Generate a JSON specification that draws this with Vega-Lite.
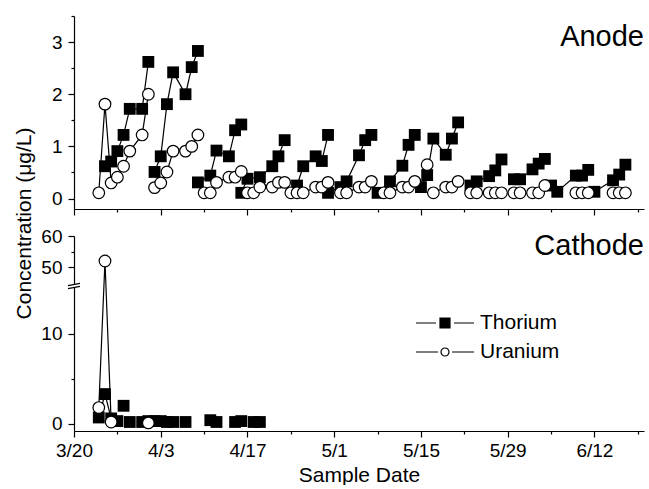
{
  "$schema": "https://vega.github.io/schema/vega-lite/v6.json",
  "padding": {"left": 12, "top": 15, "right": 5, "bottom": 0},
  "background": "white",
  "data": {"values": [
    {"panel":"Anode","element":"Thorium","date":"2003-03-25","value":0.62,"batch":1},
    {"panel":"Anode","element":"Thorium","date":"2003-03-26","value":0.71,"batch":1},
    {"panel":"Anode","element":"Thorium","date":"2003-03-27","value":0.91,"batch":1},
    {"panel":"Anode","element":"Thorium","date":"2003-03-28","value":1.22,"batch":1},
    {"panel":"Anode","element":"Thorium","date":"2003-03-29","value":1.72,"batch":1},
    {"panel":"Anode","element":"Thorium","date":"2003-03-31","value":1.72,"batch":1},
    {"panel":"Anode","element":"Thorium","date":"2003-04-01","value":2.62,"batch":1},
    {"panel":"Anode","element":"Thorium","date":"2003-04-02","value":0.51,"batch":2},
    {"panel":"Anode","element":"Thorium","date":"2003-04-03","value":0.81,"batch":2},
    {"panel":"Anode","element":"Thorium","date":"2003-04-04","value":1.81,"batch":2},
    {"panel":"Anode","element":"Thorium","date":"2003-04-05","value":2.42,"batch":2},
    {"panel":"Anode","element":"Thorium","date":"2003-04-07","value":2.0,"batch":2},
    {"panel":"Anode","element":"Thorium","date":"2003-04-08","value":2.52,"batch":2},
    {"panel":"Anode","element":"Thorium","date":"2003-04-09","value":2.83,"batch":2},
    {"panel":"Anode","element":"Thorium","date":"2003-04-09","value":0.31,"batch":3},
    {"panel":"Anode","element":"Thorium","date":"2003-04-11","value":0.44,"batch":3},
    {"panel":"Anode","element":"Thorium","date":"2003-04-12","value":0.92,"batch":3},
    {"panel":"Anode","element":"Thorium","date":"2003-04-14","value":0.81,"batch":3},
    {"panel":"Anode","element":"Thorium","date":"2003-04-15","value":1.31,"batch":3},
    {"panel":"Anode","element":"Thorium","date":"2003-04-16","value":1.42,"batch":3},
    {"panel":"Anode","element":"Thorium","date":"2003-04-16","value":0.11,"batch":4},
    {"panel":"Anode","element":"Thorium","date":"2003-04-17","value":0.38,"batch":4},
    {"panel":"Anode","element":"Thorium","date":"2003-04-19","value":0.41,"batch":4},
    {"panel":"Anode","element":"Thorium","date":"2003-04-21","value":0.62,"batch":4},
    {"panel":"Anode","element":"Thorium","date":"2003-04-22","value":0.81,"batch":4},
    {"panel":"Anode","element":"Thorium","date":"2003-04-23","value":1.12,"batch":4},
    {"panel":"Anode","element":"Thorium","date":"2003-04-25","value":0.25,"batch":5},
    {"panel":"Anode","element":"Thorium","date":"2003-04-26","value":0.62,"batch":5},
    {"panel":"Anode","element":"Thorium","date":"2003-04-28","value":0.81,"batch":5},
    {"panel":"Anode","element":"Thorium","date":"2003-04-29","value":0.72,"batch":5},
    {"panel":"Anode","element":"Thorium","date":"2003-04-30","value":1.22,"batch":5},
    {"panel":"Anode","element":"Thorium","date":"2003-04-30","value":0.11,"batch":6},
    {"panel":"Anode","element":"Thorium","date":"2003-05-02","value":0.22,"batch":6},
    {"panel":"Anode","element":"Thorium","date":"2003-05-03","value":0.33,"batch":6},
    {"panel":"Anode","element":"Thorium","date":"2003-05-05","value":0.83,"batch":6},
    {"panel":"Anode","element":"Thorium","date":"2003-05-06","value":1.12,"batch":6},
    {"panel":"Anode","element":"Thorium","date":"2003-05-07","value":1.22,"batch":6},
    {"panel":"Anode","element":"Thorium","date":"2003-05-08","value":0.11,"batch":7},
    {"panel":"Anode","element":"Thorium","date":"2003-05-10","value":0.33,"batch":7},
    {"panel":"Anode","element":"Thorium","date":"2003-05-12","value":0.63,"batch":7},
    {"panel":"Anode","element":"Thorium","date":"2003-05-13","value":1.03,"batch":7},
    {"panel":"Anode","element":"Thorium","date":"2003-05-14","value":1.22,"batch":7},
    {"panel":"Anode","element":"Thorium","date":"2003-05-15","value":0.22,"batch":8},
    {"panel":"Anode","element":"Thorium","date":"2003-05-16","value":0.45,"batch":8},
    {"panel":"Anode","element":"Thorium","date":"2003-05-17","value":1.15,"batch":8},
    {"panel":"Anode","element":"Thorium","date":"2003-05-19","value":0.84,"batch":8},
    {"panel":"Anode","element":"Thorium","date":"2003-05-20","value":1.15,"batch":8},
    {"panel":"Anode","element":"Thorium","date":"2003-05-21","value":1.46,"batch":8},
    {"panel":"Anode","element":"Thorium","date":"2003-05-23","value":0.25,"batch":9},
    {"panel":"Anode","element":"Thorium","date":"2003-05-24","value":0.33,"batch":9},
    {"panel":"Anode","element":"Thorium","date":"2003-05-26","value":0.43,"batch":9},
    {"panel":"Anode","element":"Thorium","date":"2003-05-27","value":0.54,"batch":9},
    {"panel":"Anode","element":"Thorium","date":"2003-05-28","value":0.75,"batch":9},
    {"panel":"Anode","element":"Thorium","date":"2003-05-30","value":0.37,"batch":10},
    {"panel":"Anode","element":"Thorium","date":"2003-05-31","value":0.37,"batch":10},
    {"panel":"Anode","element":"Thorium","date":"2003-06-02","value":0.56,"batch":10},
    {"panel":"Anode","element":"Thorium","date":"2003-06-03","value":0.67,"batch":10},
    {"panel":"Anode","element":"Thorium","date":"2003-06-04","value":0.76,"batch":10},
    {"panel":"Anode","element":"Thorium","date":"2003-06-05","value":0.25,"batch":11},
    {"panel":"Anode","element":"Thorium","date":"2003-06-06","value":0.13,"batch":11},
    {"panel":"Anode","element":"Thorium","date":"2003-06-09","value":0.44,"batch":11},
    {"panel":"Anode","element":"Thorium","date":"2003-06-10","value":0.44,"batch":11},
    {"panel":"Anode","element":"Thorium","date":"2003-06-11","value":0.55,"batch":11},
    {"panel":"Anode","element":"Thorium","date":"2003-06-12","value":0.13,"batch":12},
    {"panel":"Anode","element":"Thorium","date":"2003-06-15","value":0.35,"batch":12},
    {"panel":"Anode","element":"Thorium","date":"2003-06-16","value":0.46,"batch":12},
    {"panel":"Anode","element":"Thorium","date":"2003-06-17","value":0.65,"batch":12},
    {"panel":"Anode","element":"Uranium","date":"2003-03-24","value":0.11,"batch":1},
    {"panel":"Anode","element":"Uranium","date":"2003-03-25","value":1.81,"batch":1},
    {"panel":"Anode","element":"Uranium","date":"2003-03-26","value":0.30,"batch":1},
    {"panel":"Anode","element":"Uranium","date":"2003-03-27","value":0.41,"batch":1},
    {"panel":"Anode","element":"Uranium","date":"2003-03-28","value":0.62,"batch":1},
    {"panel":"Anode","element":"Uranium","date":"2003-03-29","value":0.91,"batch":1},
    {"panel":"Anode","element":"Uranium","date":"2003-03-31","value":1.22,"batch":1},
    {"panel":"Anode","element":"Uranium","date":"2003-04-01","value":2.0,"batch":1},
    {"panel":"Anode","element":"Uranium","date":"2003-04-02","value":0.21,"batch":2},
    {"panel":"Anode","element":"Uranium","date":"2003-04-03","value":0.30,"batch":2},
    {"panel":"Anode","element":"Uranium","date":"2003-04-04","value":0.51,"batch":2},
    {"panel":"Anode","element":"Uranium","date":"2003-04-05","value":0.91,"batch":2},
    {"panel":"Anode","element":"Uranium","date":"2003-04-07","value":0.91,"batch":2},
    {"panel":"Anode","element":"Uranium","date":"2003-04-08","value":1.0,"batch":2},
    {"panel":"Anode","element":"Uranium","date":"2003-04-09","value":1.22,"batch":2},
    {"panel":"Anode","element":"Uranium","date":"2003-04-10","value":0.11,"batch":3},
    {"panel":"Anode","element":"Uranium","date":"2003-04-11","value":0.11,"batch":3},
    {"panel":"Anode","element":"Uranium","date":"2003-04-12","value":0.31,"batch":3},
    {"panel":"Anode","element":"Uranium","date":"2003-04-14","value":0.41,"batch":3},
    {"panel":"Anode","element":"Uranium","date":"2003-04-15","value":0.41,"batch":3},
    {"panel":"Anode","element":"Uranium","date":"2003-04-16","value":0.52,"batch":3},
    {"panel":"Anode","element":"Uranium","date":"2003-04-17","value":0.11,"batch":4},
    {"panel":"Anode","element":"Uranium","date":"2003-04-18","value":0.11,"batch":4},
    {"panel":"Anode","element":"Uranium","date":"2003-04-19","value":0.22,"batch":4},
    {"panel":"Anode","element":"Uranium","date":"2003-04-21","value":0.22,"batch":4},
    {"panel":"Anode","element":"Uranium","date":"2003-04-22","value":0.31,"batch":4},
    {"panel":"Anode","element":"Uranium","date":"2003-04-23","value":0.31,"batch":4},
    {"panel":"Anode","element":"Uranium","date":"2003-04-24","value":0.11,"batch":5},
    {"panel":"Anode","element":"Uranium","date":"2003-04-25","value":0.11,"batch":5},
    {"panel":"Anode","element":"Uranium","date":"2003-04-26","value":0.11,"batch":5},
    {"panel":"Anode","element":"Uranium","date":"2003-04-28","value":0.22,"batch":5},
    {"panel":"Anode","element":"Uranium","date":"2003-04-29","value":0.22,"batch":5},
    {"panel":"Anode","element":"Uranium","date":"2003-04-30","value":0.31,"batch":5},
    {"panel":"Anode","element":"Uranium","date":"2003-05-02","value":0.11,"batch":6},
    {"panel":"Anode","element":"Uranium","date":"2003-05-03","value":0.11,"batch":6},
    {"panel":"Anode","element":"Uranium","date":"2003-05-05","value":0.22,"batch":6},
    {"panel":"Anode","element":"Uranium","date":"2003-05-06","value":0.22,"batch":6},
    {"panel":"Anode","element":"Uranium","date":"2003-05-07","value":0.33,"batch":6},
    {"panel":"Anode","element":"Uranium","date":"2003-05-09","value":0.11,"batch":7},
    {"panel":"Anode","element":"Uranium","date":"2003-05-10","value":0.11,"batch":7},
    {"panel":"Anode","element":"Uranium","date":"2003-05-12","value":0.22,"batch":7},
    {"panel":"Anode","element":"Uranium","date":"2003-05-13","value":0.22,"batch":7},
    {"panel":"Anode","element":"Uranium","date":"2003-05-14","value":0.33,"batch":7},
    {"panel":"Anode","element":"Uranium","date":"2003-05-16","value":0.65,"batch":13},
    {"panel":"Anode","element":"Uranium","date":"2003-05-17","value":0.11,"batch":8},
    {"panel":"Anode","element":"Uranium","date":"2003-05-19","value":0.22,"batch":8},
    {"panel":"Anode","element":"Uranium","date":"2003-05-20","value":0.22,"batch":8},
    {"panel":"Anode","element":"Uranium","date":"2003-05-21","value":0.33,"batch":8},
    {"panel":"Anode","element":"Uranium","date":"2003-05-23","value":0.11,"batch":9},
    {"panel":"Anode","element":"Uranium","date":"2003-05-24","value":0.11,"batch":9},
    {"panel":"Anode","element":"Uranium","date":"2003-05-26","value":0.11,"batch":9},
    {"panel":"Anode","element":"Uranium","date":"2003-05-27","value":0.11,"batch":9},
    {"panel":"Anode","element":"Uranium","date":"2003-05-28","value":0.11,"batch":9},
    {"panel":"Anode","element":"Uranium","date":"2003-05-30","value":0.11,"batch":10},
    {"panel":"Anode","element":"Uranium","date":"2003-05-31","value":0.11,"batch":10},
    {"panel":"Anode","element":"Uranium","date":"2003-06-02","value":0.11,"batch":10},
    {"panel":"Anode","element":"Uranium","date":"2003-06-03","value":0.11,"batch":10},
    {"panel":"Anode","element":"Uranium","date":"2003-06-04","value":0.25,"batch":10},
    {"panel":"Anode","element":"Uranium","date":"2003-06-09","value":0.11,"batch":11},
    {"panel":"Anode","element":"Uranium","date":"2003-06-10","value":0.11,"batch":11},
    {"panel":"Anode","element":"Uranium","date":"2003-06-11","value":0.11,"batch":11},
    {"panel":"Anode","element":"Uranium","date":"2003-06-15","value":0.11,"batch":12},
    {"panel":"Anode","element":"Uranium","date":"2003-06-16","value":0.11,"batch":12},
    {"panel":"Anode","element":"Uranium","date":"2003-06-17","value":0.11,"batch":12},
    {"panel":"Cathode","element":"Thorium","date":"2003-03-24","value":0.7,"batch":1},
    {"panel":"Cathode","element":"Thorium","date":"2003-03-25","value":3.3,"batch":1},
    {"panel":"Cathode","element":"Thorium","date":"2003-03-26","value":0.6,"batch":1},
    {"panel":"Cathode","element":"Thorium","date":"2003-03-27","value":0.3,"batch":2},
    {"panel":"Cathode","element":"Thorium","date":"2003-03-28","value":2.0,"batch":3},
    {"panel":"Cathode","element":"Thorium","date":"2003-03-29","value":0.2,"batch":4},
    {"panel":"Cathode","element":"Thorium","date":"2003-03-31","value":0.2,"batch":5},
    {"panel":"Cathode","element":"Thorium","date":"2003-04-01","value":0.3,"batch":6},
    {"panel":"Cathode","element":"Thorium","date":"2003-04-02","value":0.3,"batch":7},
    {"panel":"Cathode","element":"Thorium","date":"2003-04-03","value":0.3,"batch":8},
    {"panel":"Cathode","element":"Thorium","date":"2003-04-04","value":0.2,"batch":9},
    {"panel":"Cathode","element":"Thorium","date":"2003-04-05","value":0.2,"batch":10},
    {"panel":"Cathode","element":"Thorium","date":"2003-04-07","value":0.2,"batch":11},
    {"panel":"Cathode","element":"Thorium","date":"2003-04-11","value":0.4,"batch":12},
    {"panel":"Cathode","element":"Thorium","date":"2003-04-12","value":0.2,"batch":13},
    {"panel":"Cathode","element":"Thorium","date":"2003-04-15","value":0.2,"batch":14},
    {"panel":"Cathode","element":"Thorium","date":"2003-04-16","value":0.3,"batch":15},
    {"panel":"Cathode","element":"Thorium","date":"2003-04-18","value":0.2,"batch":16},
    {"panel":"Cathode","element":"Thorium","date":"2003-04-19","value":0.2,"batch":17},
    {"panel":"Cathode","element":"Uranium","date":"2003-03-24","value":1.8,"batch":1},
    {"panel":"Cathode","element":"Uranium","date":"2003-03-25","value":52,"batch":1},
    {"panel":"Cathode","element":"Uranium","date":"2003-03-26","value":0.2,"batch":1},
    {"panel":"Cathode","element":"Uranium","date":"2003-04-01","value":0.1,"batch":2}
  ]},
  "vconcat": [
    {
      "width": 570,
      "height": 193,
      "transform": [{"filter": "datum.panel === 'Anode'"}],
      "encoding": {
        "x": {"field": "date", "type": "temporal",
          "scale": {"type": "utc", "domain": [{"year": 2003, "month": 3, "date": 20, "utc": true}, {"year": 2003, "month": 6, "date": 20, "utc": true}]},
          "axis": {"labels": false, "title": null,
            "values": [{"year":2003,"month":3,"date":20,"utc":true},{"year":2003,"month":3,"date":27,"utc":true},{"year":2003,"month":4,"date":3,"utc":true},{"year":2003,"month":4,"date":10,"utc":true},{"year":2003,"month":4,"date":17,"utc":true},{"year":2003,"month":4,"date":24,"utc":true},{"year":2003,"month":5,"date":1,"utc":true},{"year":2003,"month":5,"date":8,"utc":true},{"year":2003,"month":5,"date":15,"utc":true},{"year":2003,"month":5,"date":22,"utc":true},{"year":2003,"month":5,"date":29,"utc":true},{"year":2003,"month":6,"date":5,"utc":true},{"year":2003,"month":6,"date":12,"utc":true},{"year":2003,"month":6,"date":19,"utc":true}],
            "tickSize": {"condition": {"test": "round((datum.value - utc(2003,2,20))/864e5) % 14 === 0", "value": 6}, "value": 3}}},
        "y": {"field": "value", "type": "quantitative",
          "scale": {"domain": [-0.2, 3.5], "nice": false, "zero": false},
          "axis": {"title": null, "values": [0, 0.5, 1, 1.5, 2, 2.5, 3, 3.5],
            "labelExpr": "datum.value % 1 === 0 ? format(datum.value, 'd') : ''",
            "tickSize": {"condition": {"test": "datum.value % 1 === 0", "value": 6}, "value": 3}}}
      },
      "layer": [
        {"transform": [{"aggregate": [{"op": "min", "field": "date", "as": "date"}, {"op": "min", "field": "value", "as": "value"}]}],
         "mark": {"type": "text", "text": "Anode", "align": "right", "baseline": "alphabetic", "fontSize": 29, "font": "Liberation Sans", "color": "black"},
         "encoding": {"x": {"datum": {"year": 2003, "month": 6, "date": 20, "utc": true}, "type": "temporal"}, "y": {"datum": 2.925, "type": "quantitative"}}},
        {"mark": {"type": "line", "stroke": "black", "strokeWidth": 1.2}, "encoding": {"detail": [{"field": "element"}, {"field": "batch"}]}},
        {"transform": [{"filter": "datum.element === 'Thorium'"}], "mark": {"type": "point", "shape": "square", "filled": true, "fill": "black", "stroke": null, "size": 140, "opacity": 1}},
        {"transform": [{"filter": "datum.element === 'Uranium'"}], "mark": {"type": "point", "shape": "circle", "filled": true, "fill": "white", "stroke": "black", "strokeWidth": 1.2, "size": 135, "opacity": 1}}
      ]
    },
    {
      "width": 570,
      "height": 195,
      "transform": [{"filter": "datum.panel === 'Cathode'"}],
      "encoding": {
        "x": {"field": "date", "type": "temporal",
          "scale": {"type": "utc", "domain": [{"year": 2003, "month": 3, "date": 20, "utc": true}, {"year": 2003, "month": 6, "date": 20, "utc": true}]},
          "axis": {"title": "Sample Date", "titlePadding": 4, "labelFlush": false,
            "values": [{"year":2003,"month":3,"date":20,"utc":true},{"year":2003,"month":3,"date":27,"utc":true},{"year":2003,"month":4,"date":3,"utc":true},{"year":2003,"month":4,"date":10,"utc":true},{"year":2003,"month":4,"date":17,"utc":true},{"year":2003,"month":4,"date":24,"utc":true},{"year":2003,"month":5,"date":1,"utc":true},{"year":2003,"month":5,"date":8,"utc":true},{"year":2003,"month":5,"date":15,"utc":true},{"year":2003,"month":5,"date":22,"utc":true},{"year":2003,"month":5,"date":29,"utc":true},{"year":2003,"month":6,"date":5,"utc":true},{"year":2003,"month":6,"date":12,"utc":true},{"year":2003,"month":6,"date":19,"utc":true}],
            "labelExpr": "round((datum.value - utc(2003,2,20))/864e5) % 14 === 0 ? utcFormat(datum.value, '%-m/%-d') : ''",
            "tickSize": {"condition": {"test": "round((datum.value - utc(2003,2,20))/864e5) % 14 === 0", "value": 6}, "value": 3}}},
        "y": {"field": "value", "type": "quantitative",
          "scale": {"domain": [-0.8, 15.3, 44, 60], "range": [195, 50, 50, 0], "nice": false, "zero": false},
          "axis": {"title": "Concentration (μg/L)", "titleX": -44, "titleY": -13, "titleAlign": "center", "titleBaseline": "alphabetic", "titleAngle": -90,
            "values": [0, 5, 10, 50, 55, 60],
            "labelExpr": "datum.value % 10 === 0 ? format(datum.value, 'd') : ''",
            "tickSize": {"condition": {"test": "datum.value % 10 === 0", "value": 6}, "value": 3}}}
      },
      "layer": [
        {"transform": [{"aggregate": [{"op": "min", "field": "date", "as": "date"}, {"op": "min", "field": "value", "as": "value"}]}],
         "mark": {"type": "text", "text": "Cathode", "align": "right", "baseline": "alphabetic", "fontSize": 29, "font": "Liberation Sans", "color": "black"},
         "encoding": {"x": {"datum": {"year": 2003, "month": 6, "date": 20, "utc": true}, "type": "temporal"}, "y": {"datum": 53.9, "type": "quantitative"}}},
        {"transform": [{"aggregate": [{"op": "min", "field": "date", "as": "date"}, {"op": "min", "field": "value", "as": "value"}]}],
         "mark": {"type": "point", "shape": "M-1,-0.05L1,-0.45L1,0.05L-1,0.45Z", "filled": true, "fill": "white", "stroke": null, "size": 144, "opacity": 1},
         "encoding": {"x": {"datum": {"year": 2003, "month": 3, "date": 20, "utc": true}, "type": "temporal"}, "y": {"datum": 30, "type": "quantitative"}}},
        {"transform": [{"aggregate": [{"op": "min", "field": "date", "as": "date"}, {"op": "min", "field": "value", "as": "value"}]}],
         "mark": {"type": "point", "shape": "M-1,-0.05L1,-0.45M-1,0.45L1,0.05", "filled": false, "stroke": "black", "strokeWidth": 1.2, "size": 144, "opacity": 1},
         "encoding": {"x": {"datum": {"year": 2003, "month": 3, "date": 20, "utc": true}, "type": "temporal"}, "y": {"datum": 30, "type": "quantitative"}}},
        {"mark": {"type": "line", "stroke": "black", "strokeWidth": 1.2}, "encoding": {"detail": [{"field": "element"}, {"field": "batch"}]}},
        {"transform": [{"filter": "datum.element === 'Thorium'"}], "mark": {"type": "point", "shape": "square", "filled": true, "fill": "black", "stroke": null, "size": 140, "opacity": 1}},
        {"transform": [{"filter": "datum.element === 'Uranium'"}], "mark": {"type": "point", "shape": "circle", "filled": true, "fill": "white", "stroke": "black", "strokeWidth": 1.2, "size": 135, "opacity": 1}},
        {"transform": [{"filter": "false"}],
         "mark": {"type": "point", "filled": true, "strokeWidth": 1.2, "size": 400, "opacity": 1},
         "encoding": {
           "shape": {"field": "element", "type": "nominal",
             "scale": {"domain": ["Thorium", "Uranium"], "range": ["M-2.9,0H-0.9M-0.5,-0.5H0.5V0.5H-0.5ZM0.9,0H2.9", "M-2.9,0H-0.7M-0.4,0A0.4,0.4 0 1,1 0.4,0A0.4,0.4 0 1,1 -0.4,0ZM0.7,0H2.9"]},
             "legend": {"title": null, "orient": "none", "legendX": 360, "legendY": 296, "padding": 0, "symbolSize": 400, "labelOffset": 24, "labelFontSize": 21, "labelFont": "Liberation Sans", "labelColor": "black", "symbolStrokeWidth": 1.2, "rowPadding": 8}},
           "fill": {"field": "element", "type": "nominal",
             "scale": {"domain": ["Thorium", "Uranium"], "range": ["black", "white"]},
             "legend": {"title": null, "orient": "none", "legendX": 360, "legendY": 296, "padding": 0, "symbolSize": 400, "labelOffset": 24, "labelFontSize": 21, "labelFont": "Liberation Sans", "labelColor": "black", "symbolStrokeWidth": 1.2, "rowPadding": 8}},
           "stroke": {"field": "element", "type": "nominal",
             "scale": {"domain": ["Thorium", "Uranium"], "range": ["black", "black"]},
             "legend": {"title": null, "orient": "none", "legendX": 360, "legendY": 296, "padding": 0, "symbolSize": 400, "labelOffset": 24, "labelFontSize": 21, "labelFont": "Liberation Sans", "labelColor": "black", "symbolStrokeWidth": 1.2, "rowPadding": 8}}
         }}
      ]
    }
  ],
  "spacing": 27,
  "bounds": "flush",
  "config": {
    "font": "Liberation Sans",
    "view": {"stroke": null},
    "axis": {"domainColor": "black", "domainWidth": 1.2, "tickColor": "black", "tickWidth": 1.2, "labelColor": "black", "labelFont": "Liberation Sans", "labelFontSize": 19, "titleFont": "Liberation Sans", "titleFontSize": 21, "titleFontWeight": "normal", "titleColor": "black", "grid": false},
    "axisX": {"labelPadding": 4},
    "axisY": {"labelPadding": 6}
  }
}
